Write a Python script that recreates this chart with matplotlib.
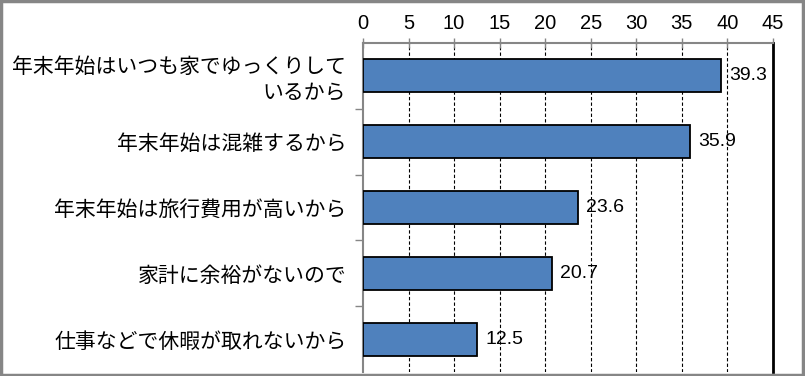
import matplotlib.pyplot as plt
from matplotlib.patches import Rectangle

plt.rcParams['font.family'] = ['Noto Sans CJK JP', 'DejaVu Sans']

# データ
labels = ['年末年始はいつも家でゆっくりして\nいるから',
          '年末年始は混雑するから',
          '年末年始は旅行費用が高いから',
          '家計に余裕がないので',
          '仕事などで休暇が取れないから']
values = [39.3, 35.9, 23.6, 20.7, 12.5]
xticks = [0, 5, 10, 15, 20, 25, 30, 35, 40, 45]

fig = plt.figure(figsize=(8.05, 3.76), dpi=100)
ax = fig.add_axes([363 / 805, 1 - 372 / 376, 410 / 805, 329 / 376])

y = list(range(len(values)))
ax.barh(y, values, height=0.5, color='#4F81BD', edgecolor='black', linewidth=1.3, zorder=3)

for yi, v in zip(y, values):
    ax.annotate(f'{v:.1f}', (v, yi), xytext=(6, 0), textcoords='offset points',
                va='center', ha='left', fontsize=14, family='Liberation Sans', zorder=4)

ax.set_xlim(0, 45)
ax.set_ylim(len(values) - 0.5, -0.5)

# 目盛り(上側)
ax.xaxis.tick_top()
ax.set_xticks(xticks)
ax.set_xticklabels([str(t) for t in xticks], fontsize=14.5, family='Liberation Sans')
ax.tick_params(axis='x', direction='inout', length=7, width=1, color='#868686', pad=4)

# 項目ラベル
ax.set_yticks(y)
ax.set_yticklabels(labels, fontsize=15, multialignment='right')
ax.tick_params(axis='y', which='major', length=0, pad=12)
ax.set_yticks([i + 0.5 for i in range(len(values) - 1)], minor=True)
ax.tick_params(axis='y', which='minor', length=6, width=1, color='#868686', direction='out')

# 補助線
for t in xticks[1:-1]:
    ax.axvline(t, color='black', linestyle=(0, (3, 2)), linewidth=0.8, zorder=1)

ax.spines['top'].set_color('#868686')
ax.spines['top'].set_linewidth(1.5)
ax.spines['left'].set_color('#868686')
ax.spines['left'].set_linewidth(1.5)
ax.spines['right'].set_color('black')
ax.spines['right'].set_linewidth(2)
ax.spines['bottom'].set_visible(False)

# 外枠
fig.patches.append(Rectangle((0.001, 0.003), 0.996, 0.994, transform=fig.transFigure,
                             fill=False, edgecolor='#868686', linewidth=2.5))

plt.savefig('out.png', dpi=100)
